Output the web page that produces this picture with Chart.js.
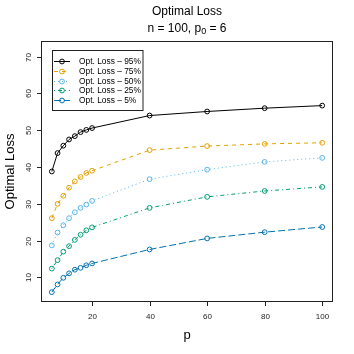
<!DOCTYPE html>
<html>
<head>
<meta charset="utf-8">
<script src="https://cdn.jsdelivr.net/npm/chart.js@4"></script>
<style>
html,body{margin:0;padding:0;background:#fff;}
#wrap{width:354px;height:354px;}
</style>
</head>
<body>
<div id="wrap"><canvas id="c" width="354" height="354"></canvas></div>
<script>
const pValues = [6, 8, 10, 12, 14, 16, 18, 20, 40, 60, 80, 100];
const loss95 = [38.8, 43.8, 45.8, 47.5, 48.4, 49.5, 50.1, 50.6, 54.0, 55.1, 56.0, 56.7];
const loss75 = [26.1, 30.0, 32.2, 34.4, 36.1, 37.3, 38.4, 39.0, 44.6, 45.7, 46.3, 46.6];
const loss50 = [18.7, 22.2, 24.2, 26.1, 27.7, 28.9, 29.8, 30.8, 36.7, 39.3, 41.4, 42.5];
const loss25 = [12.4, 14.7, 17.0, 18.5, 20.2, 21.6, 22.8, 23.6, 28.9, 31.9, 33.5, 34.6];
const loss5  = [6.0, 8.1, 9.9, 11.1, 12.1, 12.6, 13.3, 13.8, 17.6, 20.6, 22.3, 23.7];
const seriesLabels = ["Opt. Loss – 95%", "Opt. Loss – 75%", "Opt. Loss – 50%", "Opt. Loss – 25%", "Opt. Loss – 5%"];
const xTicks = [20, 40, 60, 80, 100];
const yTicks = [10, 20, 30, 40, 50, 60, 70];
const titleText = "Optimal Loss";
const xTitle = "p";
const yTitle = "Optimal Loss";

const FONT = '"Liberation Sans", Arial, Helvetica, sans-serif';
const colors = ["#000000", "#E69F00", "#56B4E9", "#009E73", "#0072B2"];
const dashes = [[], [4,4], [1,3], [1,3,4,3], [7,3]];
const allSeries = [loss95, loss75, loss50, loss25, loss5];

const datasets = allSeries.map((arr, i) => ({
  label: seriesLabels[i],
  data: pValues.map((p, j) => ({x: p, y: arr[j]})),
  borderColor: colors[i],
  backgroundColor: 'rgba(0,0,0,0)',
  pointBackgroundColor: 'rgba(0,0,0,0)',
  pointBorderColor: colors[i],
  pointBorderWidth: 1,
  pointRadius: 2.4,
  borderWidth: 1,
  borderDash: dashes[i],
  tension: 0,
  fill: false
}));

const rPlot = {
  id: 'rplot',
  afterDraw(chart) {
    const ctx = chart.ctx, ca = chart.chartArea;
    const xs = chart.scales.x, ys = chart.scales.y;
    ctx.save();
    ctx.strokeStyle = '#222';
    ctx.lineWidth = 1;
    ctx.setLineDash([]);
    // plot box
    ctx.strokeRect(ca.left + 0.5, ca.top + 0.5, ca.right - ca.left - 1, ca.bottom - ca.top - 1);
    // x ticks
    ctx.fillStyle = '#222';
    ctx.font = '8px ' + FONT;
    ctx.textAlign = 'center';
    ctx.textBaseline = 'middle';
    xTicks.forEach(v => {
      const px = Math.round(xs.getPixelForValue(v)) + 0.5;
      ctx.beginPath();
      ctx.moveTo(px, ca.bottom - 0.5);
      ctx.lineTo(px, ca.bottom + 4);
      ctx.stroke();
      ctx.fillText(String(v), px, ca.bottom + 15);
    });
    // y ticks
    yTicks.forEach(v => {
      const py = Math.round(ys.getPixelForValue(v)) + 0.5;
      ctx.beginPath();
      ctx.moveTo(ca.left + 0.5, py);
      ctx.lineTo(ca.left - 4, py);
      ctx.stroke();
      ctx.save();
      ctx.translate(ca.left - 12.5, py);
      ctx.rotate(-Math.PI / 2);
      ctx.fillText(String(v), 0, 0);
      ctx.restore();
    });
    // axis titles
    ctx.fillStyle = '#000';
    ctx.font = '13px ' + FONT;
    ctx.fillText(xTitle, (ca.left + ca.right) / 2, ca.bottom + 33);
    ctx.save();
    ctx.translate(10, (ca.top + ca.bottom) / 2);
    ctx.rotate(-Math.PI / 2);
    ctx.fillText(yTitle, 0, 0);
    ctx.restore();
    // title
    ctx.font = '12px ' + FONT;
    const cx = (ca.left + ca.right) / 2;
    ctx.fillText(titleText, cx, 12);
    // subtitle with subscript
    const part1 = "n = 100, p", sub = "0", part2 = " = 6";
    ctx.font = '12px ' + FONT;
    const w1 = ctx.measureText(part1).width, w3 = ctx.measureText(part2).width;
    ctx.font = '9px ' + FONT;
    const w2 = ctx.measureText(sub).width;
    let sx = cx - (w1 + w2 + w3) / 2;
    ctx.textAlign = 'left';
    ctx.font = '12px ' + FONT;
    ctx.fillText(part1, sx, 29);
    ctx.font = '9px ' + FONT;
    ctx.fillText(sub, sx + w1, 32);
    ctx.font = '12px ' + FONT;
    ctx.fillText(part2, sx + w1 + w2, 29);
    // legend
    const lx = 52, ly = 50, lw = 90.5, lh = 60;
    ctx.fillStyle = '#fff';
    ctx.fillRect(lx, ly, lw, lh);
    ctx.strokeStyle = '#222';
    ctx.strokeRect(lx + 0.5, ly + 0.5, lw, lh);
    ctx.font = '8.4px ' + FONT;
    ctx.textAlign = 'left';
    ctx.textBaseline = 'middle';
    chart.data.datasets.forEach((ds, i) => {
      const ry = Math.round(ly + 11 + i * 9.8) + 0.5;
      ctx.strokeStyle = ds.borderColor;
      ctx.lineWidth = 1;
      ctx.setLineDash(ds.borderDash);
      ctx.beginPath();
      ctx.moveTo(54, ry);
      ctx.lineTo(70, ry);
      ctx.stroke();
      ctx.setLineDash([]);
      ctx.beginPath();
      ctx.arc(62, ry, 2.4, 0, Math.PI * 2);
      ctx.stroke();
      ctx.fillStyle = '#000';
      ctx.fillText(ds.label, 79, ry);
    });
    ctx.restore();
  }
};

new Chart(document.getElementById('c'), {
  type: 'line',
  data: { datasets },
  options: {
    responsive: false,
    animation: false,
    devicePixelRatio: 1,
    layout: { padding: { left: 41, right: 21, top: 41, bottom: 52 } },
    plugins: { legend: { display: false }, title: { display: false }, tooltip: { enabled: false } },
    scales: {
      x: { type: 'linear', min: 2.24, max: 103.76, display: false },
      y: { type: 'linear', min: 3.32, max: 74.26, display: false }
    }
  },
  plugins: [rPlot]
});
</script>
</body>
</html>
